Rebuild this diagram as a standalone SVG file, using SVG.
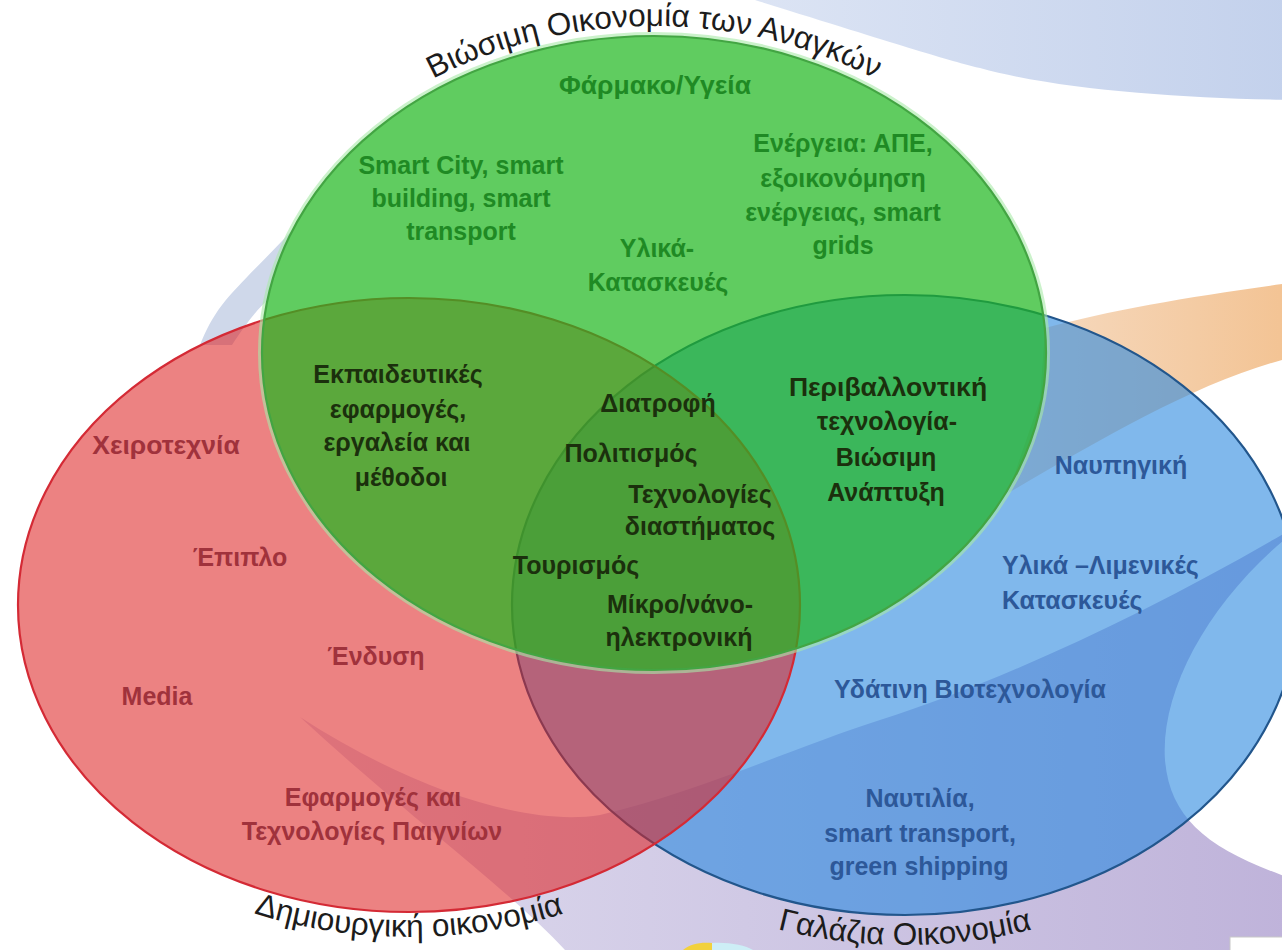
<svg xmlns="http://www.w3.org/2000/svg" width="1282" height="950" viewBox="0 0 1282 950">
<defs>
<style>
.lbl{font-family:"Liberation Sans",Arial,sans-serif;font-weight:bold;font-size:25px;text-anchor:middle}
.big{font-size:26.5px}
.lft{text-anchor:start}
.g{fill:#1f8a24}
.d{fill:#1b300d}
.r{fill:#a0323c}
.b{fill:#2d5899}
.title{font-family:"Liberation Sans",Arial,sans-serif;font-size:31.5px;fill:#1c1c1c}
.ell{stroke-width:2.2}
</style>
<linearGradient id="gTop" x1="0" y1="0" x2="1" y2="0">
<stop offset="0" stop-color="#dce4f4"/><stop offset="1" stop-color="#c3d1ec"/>
</linearGradient>
<linearGradient id="gLav" x1="0" y1="0" x2="1" y2="0">
<stop offset="0" stop-color="#dedbee"/><stop offset="1" stop-color="#bfb3da"/>
</linearGradient>
<linearGradient id="gOr" x1="0" y1="0" x2="1" y2="0">
<stop offset="0" stop-color="#f6dcc4"/><stop offset="1" stop-color="#f3c393"/>
</linearGradient>
<path id="arcTop" d="M249,353 A405,327 0 0 1 1059,353"/>
<path id="arcRed" d="M-9,605 A418,332 0 0 0 827,605"/>
<path id="arcBlue" d="M482,605 A423,340 0 0 0 1328,605"/>
</defs>
<rect width="1282" height="950" fill="#ffffff"/>
<g id="background">
<path d="M755,0 L1290,0 L1290,100 C1180,98 1060,90 980,68 C940,58 900,45 755,0 Z" fill="url(#gTop)"/>
<path d="M293,229 C270,255 240,282 222,305 C212,318 206,330 200,345 L232,345 C245,325 258,308 268,300 C272,280 282,250 293,229 Z" fill="#cfd8ea"/>
<path d="M1290,283 C1200,295 1110,310 1045,328 L1040,400 L1008,493 C1100,440 1200,380 1290,358 Z" fill="url(#gOr)"/>
<path d="M300,717 C400,782 520,828 600,815 C700,792 800,745 880,720 C1000,682 1150,612 1290,530 L1290,950 L565,950 C510,890 400,810 300,717 Z" fill="url(#gLav)"/>
<path d="M1290,535 C1210,600 1160,690 1165,760 C1170,820 1210,850 1290,878 Z" fill="#ffffff"/>
<path d="M683,950 C690,944 700,942 712,943 L712,950 Z" fill="#f2d13c"/>
<path d="M712,943 C728,942 745,945 753,950 L712,950 Z" fill="#cdeef6"/>
<rect x="1230" y="937" width="60" height="20" fill="#ffffff" stroke="#c8c8c8"/>
</g>
<g id="set-blue">
<ellipse class="ell" cx="905" cy="605" rx="393" ry="310" fill="rgb(43,137,223)" fill-opacity="0.6" stroke="#22568c"/>
<text class="title"><textPath href="#arcBlue" startOffset="50%" text-anchor="middle">Γαλάζια Οικονομία</textPath></text>
</g>
<g id="set-red">
<ellipse class="ell" cx="409" cy="605" rx="391" ry="307" fill="rgb(221,35,35)" fill-opacity="0.57" stroke="#d42a35"/>
<text class="title"><textPath href="#arcRed" startOffset="50%" text-anchor="middle">Δημιουργική οικονομία</textPath></text>
</g>
<g id="set-green">
<ellipse cx="654" cy="353" rx="394" ry="319" fill="none" stroke="#a8eaa8" stroke-width="4" stroke-opacity="0.6"/>
<ellipse class="ell" cx="654" cy="353" rx="392" ry="317" fill="rgb(31,183,31)" fill-opacity="0.71" stroke="#43a543"/>
<text class="title"><textPath href="#arcTop" startOffset="50%" text-anchor="middle">Βιώσιμη Οικονομία των Αναγκών</textPath></text>
</g>
<g id="region-green" class="lbl g">
<text class="big" x="655" y="94">Φάρμακο/Υγεία</text>
<text x="461" y="174">Smart City, smart</text>
<text x="461" y="207">building, smart</text>
<text x="461" y="240">transport</text>
<text x="843" y="152">Ενέργεια: ΑΠΕ,</text>
<text x="843" y="187">εξοικονόμηση</text>
<text x="843" y="221">ενέργειας, smart</text>
<text x="843" y="254">grids</text>
<text x="657" y="257">Υλικά-</text>
<text x="658" y="291">Κατασκευές</text>
</g>
<g id="region-red-green" class="lbl d">
<text x="398" y="383">Εκπαιδευτικές</text>
<text x="398" y="418">εφαρμογές,</text>
<text x="397" y="451">εργαλεία και</text>
<text x="401" y="486">μέθοδοι</text>
</g>
<g id="region-all" class="lbl d">
<text x="658" y="412">Διατροφή</text>
<text x="631" y="462">Πολιτισμός</text>
<text x="700" y="503">Τεχνολογίες</text>
<text x="700" y="535">διαστήματος</text>
<text x="576" y="574">Τουρισμός</text>
<text x="680" y="613">Μίκρο/νάνο-</text>
<text x="679" y="646">ηλεκτρονική</text>
</g>
<g id="region-green-blue" class="lbl d">
<text class="big" x="888" y="396">Περιβαλλοντική</text>
<text x="887" y="430">τεχνολογία-</text>
<text x="886" y="466">Βιώσιμη</text>
<text x="886" y="501">Ανάπτυξη</text>
</g>
<g id="region-red" class="lbl r">
<text class="big" x="166" y="454">Χειροτεχνία</text>
<text x="240" y="566">Έπιπλο</text>
<text x="376" y="665">Ένδυση</text>
<text x="157" y="705">Media</text>
<text x="373" y="806">Εφαρμογές και</text>
<text x="372" y="840">Τεχνολογίες Παιγνίων</text>
</g>
<g id="region-blue" class="lbl b">
<text x="1121" y="474">Ναυπηγική</text>
<text class="lft" x="1002" y="574">Υλικά –Λιμενικές</text>
<text class="lft" x="1002" y="609">Κατασκευές</text>
<text x="970" y="698">Υδάτινη Βιοτεχνολογία</text>
<text x="920" y="807">Ναυτιλία,</text>
<text x="920" y="842">smart transport,</text>
<text x="919" y="875">green shipping</text>
</g>
</svg>
